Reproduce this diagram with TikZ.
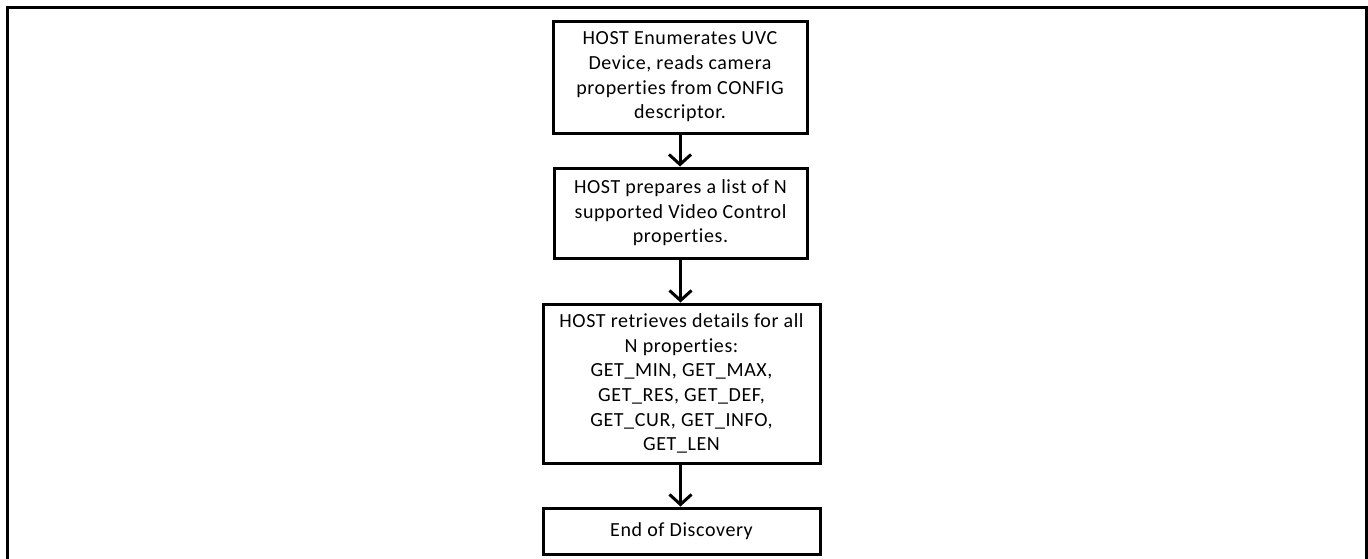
\documentclass[tikz,border=0pt]{standalone}
\usepackage{fontspec}
\setmainfont[Ligatures=NoCommon,LetterSpace=3]{Carlito}
\usetikzlibrary{arrows.meta}
\begin{document}
\begin{tikzpicture}[x=1pt,y=1pt,
  box/.style={draw=black,line width=3pt,inner sep=0pt,align=center,
    font=\fontsize{20}{24.6}\selectfont},
  conn/.style={line width=3pt,-{Straight Barb[length=10pt,width=22pt,line width=3pt]}}]
\useasboundingbox (0,0) rectangle (1368,-558);
\draw[line width=3pt] (7,-560) -- (7,-7) -- (1366,-7) -- (1366,-560);
\node[box,minimum width=254pt,minimum height=112pt] (b1) at (680,-77)
  {HOST Enumerates UVC\\Device, reads camera\\properties from CONFIG\\descriptor.};
\node[box,minimum width=253pt,minimum height=90pt] (b2) at (680.5,-213)
  {HOST prepares a list of N\\supported Video Control\\properties.};
\node[box,minimum width=277pt,minimum height=159pt] (b3) at (681.5,-383.5)
  {HOST retrieves details for all\\N properties:\\GET\_MIN, GET\_MAX,\\GET\_RES, GET\_DEF,\\GET\_CUR, GET\_INFO,\\GET\_LEN};
\node[box,minimum width=277pt,minimum height=46pt] (b4) at (681.5,-531)
  {End of Discovery};
\draw[conn] (b1.south) -- (b1.south |- b2.north);
\draw[conn] (b2.south) -- (b2.south |- b3.north);
\draw[conn] (b2.south |- b3.south) -- (b2.south |- b4.north);
\end{tikzpicture}
\end{document}
